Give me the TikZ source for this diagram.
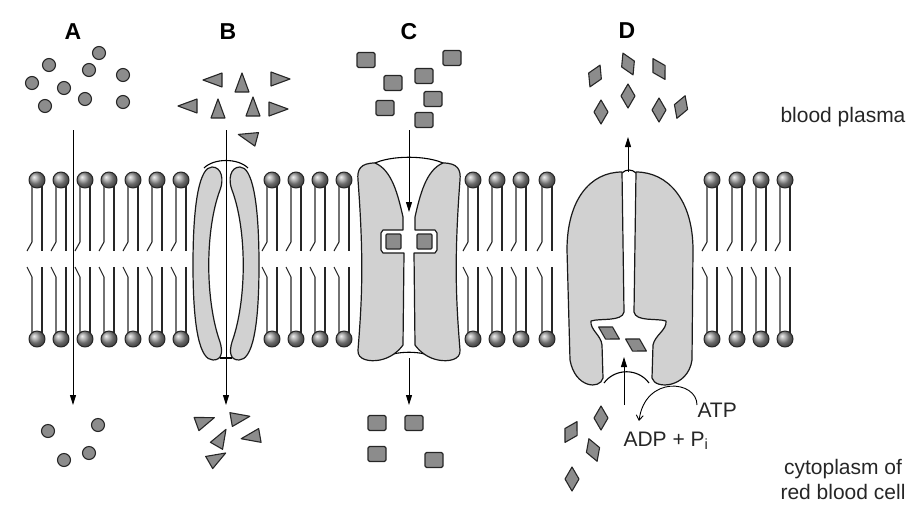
\documentclass[tikz,border=0pt]{standalone}
\usepackage{fontspec}
\setmainfont{Liberation Sans}
\usetikzlibrary{arrows.meta}
\begin{document}
\begin{tikzpicture}[x=1pt,y=-1pt,line join=round,
  mol/.style={draw=black!85,fill=black!45,line width=1.1pt},
  prot/.style={draw=black!90,fill=black!18,line width=1.2pt},
  arr/.style={line width=0.9pt,-{Triangle[length=10pt,width=6pt]}},
  lip/.style={line width=1.1pt,draw=black!85},
  lab/.style={font=\fontsize{23}{25}\selectfont\bfseries},
  txt/.style={font=\fontsize{21}{25}\selectfont,text=black!85}]
\useasboundingbox (0,0) rectangle (918,523);
\newcommand\lipid[1]{%
  \draw[lip] (#1-5,186)--(#1-5,242)--(#1-10,251);
  \draw[lip] (#1+5,186)--(#1+5,251);
  \draw[lip] (#1-10,267)--(#1-5,277)--(#1-5,333);
  \draw[lip] (#1+5,267)--(#1+5,333);
  \shade[ball color=black!40,draw=black!85,line width=1pt] (#1,180) circle (8);
  \shade[ball color=black!40,draw=black!85,line width=1pt] (#1,339) circle (8);}
\foreach \x in {37,61,85,109,133,157,181,272,296,320,344,473,497,521,547,712,737,761,785} {\lipid{\x}}
% labels
\node[lab] (lA) at (73,32) {A};
\node[lab] (lB) at (228,32) {B};
\node[lab] (lC) at (409,32) {C};
\node[lab] (lD) at (627,31) {D};
\node[txt] (bp) at (843,117) {blood plasma};
\node[txt,align=center] (cy) at (843,479) {cytoplasm of\\red blood cell};
% A circles
\foreach \p in {(49,65),(99,53),(32,83),(64,88),(89,70),(123,75),(45,106),(85,99),(123,102),(48,431),(98,425),(64,460),(89,453)}
  \draw[mol] \p circle (6.5);
% B triangles
\newcommand\tri[3]{\draw[mol,shift={(#1,#2)},rotate=#3] (0,-10)--(7,9)--(-7,9)--cycle;}
\tri{213}{80}{90}\tri{242}{83}{0}\tri{280}{79}{-90}\tri{188}{106}{90}\tri{218}{109}{0}
\tri{253}{107}{0}\tri{278}{109}{-90}\tri{248}{137}{75}
\tri{205}{421}{-70}\tri{240}{418}{-80}\tri{221}{438}{-30}\tri{251}{437}{100}\tri{217}{458}{-60}
% C squares
\foreach \p in {(366,60),(452,58),(393,83),(424,76),(433,99),(385,108),(424,120),(377,423),(414,423),(377,454),(434,460)}
  \draw[mol,rounded corners=1.5pt,shift={\p}] (-9,-7.5) rectangle (9,7.5);
% D diamonds
\newcommand\dia[3]{\draw[mol,shift={(#1,#2)},rotate=#3] (0,-12)--(7,0)--(0,12)--(-7,0)--cycle;}
\dia{595}{76}{-25}\dia{628}{64}{25}\dia{659}{69}{30}\dia{601}{112}{0}\dia{628}{96}{0}
\dia{659}{110}{0}\dia{681}{107}{-20}
\dia{601}{418}{0}\dia{571}{432}{-30}\dia{593}{450}{20}\dia{572}{479}{0}
% protein B
\draw[line width=1.1pt] (204,168) .. controls (214,158) and (238,158) .. (248,168);
\draw[prot] (212,167) .. controls (200,167) and (193,200) .. (193,265) .. controls (193,330) and (200,360) .. (213,360) .. controls (222,360) and (223,352) .. (220,342) .. controls (205,300) and (205,230) .. (220,190) .. controls (224,180) and (222,167) .. (212,167) -- cycle;
\draw[prot] (240,167) .. controls (252,167) and (259,200) .. (259,265) .. controls (259,330) and (252,360) .. (239,360) .. controls (230,360) and (229,352) .. (232,342) .. controls (247,300) and (247,230) .. (232,190) .. controls (228,180) and (230,167) .. (240,167) -- cycle;
\draw[line width=1.1pt] (220,358) -- (232,358);
% protein C
\draw[line width=1.1pt] (373,164) .. controls (390,155) and (428,155) .. (445,164);
\draw[line width=1.1pt] (380,359) .. controls (395,350) and (423,350) .. (438,359);
\draw[prot] (375,163) .. controls (360,163) and (357,170) .. (358,180) .. controls (364,260) and (362,300) .. (358,350) .. controls (357,360) and (370,362) .. (380,360) .. controls (390,358) and (398,352) .. (403,345) -- (404,253) -- (383,253) -- (381,250) -- (381,233) -- (383,230) -- (403,230) -- (403,217) .. controls (398,195) and (392,170) .. (375,163) -- cycle;
\draw[prot] (443,163) .. controls (458,163) and (461,170) .. (460,180) .. controls (454,260) and (456,300) .. (460,350) .. controls (461,360) and (448,362) .. (438,360) .. controls (428,358) and (420,352) .. (415,345) -- (414,253) -- (435,253) -- (437,250) -- (437,233) -- (435,230) -- (415,230) -- (415,217) .. controls (420,195) and (426,170) .. (443,163) -- cycle;
\draw[mol,rounded corners=1pt] (386,234) rectangle (401,249);
\draw[mol,rounded corners=1pt] (417,234) rectangle (432,249);
% protein D
\draw[line width=1.1pt] (622,173) .. controls (626,169) and (632,169) .. (636,173);
\draw[line width=1.1pt] (604,383) .. controls (615,368) and (638,368) .. (649,383);
\draw[prot] (622,172) -- (624,312) .. controls (622,322) and (600,318) .. (591,321) .. controls (590,330) and (601,335) .. (602,345) -- (603,378) .. controls (600,390) and (575,388) .. (570,360) -- (567,250) .. controls (567,200) and (590,172) .. (622,172) -- cycle;
\draw[prot] (636,172) -- (634,312) .. controls (636,322) and (657,318) .. (666,321) .. controls (667,330) and (655,335) .. (653,345) -- (652,378) .. controls (655,390) and (688,388) .. (692,360) -- (693,250) .. controls (693,200) and (668,172) .. (636,172) -- cycle;
\dia{609}{333}{60}\dia{636}{345}{60}
% arrows
\coordinate (a1) at (73,130); \coordinate (a2) at (73,405);
\coordinate (b1) at (226,130); \coordinate (b2) at (226,405);
\coordinate (c1) at (409,130); \coordinate (c2) at (409,212);
\coordinate (c3) at (409,358); \coordinate (c4) at (409,405);
\coordinate (d1) at (628,172); \coordinate (d2) at (628,137);
\coordinate (d3) at (624,405); \coordinate (d4) at (624,357);
\draw[arr] (a1) -- (a2);
\draw[arr] (b1) -- (b2);
\draw[arr] (c1) -- (c2);
\draw[arr] (c3) -- (c4);
\draw[arr] (d1) -- (d2);
\draw[arr] (d3) -- (d4);
\node[txt,anchor=west] (atp) at (694,410) {ATP};
\node[txt,anchor=west] (adp) at (620,441) {ADP + P\textsubscript{i}};
\coordinate (e1) at (697,405); \coordinate (e2) at (639,421);
\draw[line width=0.9pt,-{Straight Barb[length=5pt,width=7pt]}] (e1) .. controls (697,380) and (645,375) .. (e2);
\end{tikzpicture}
\end{document}
